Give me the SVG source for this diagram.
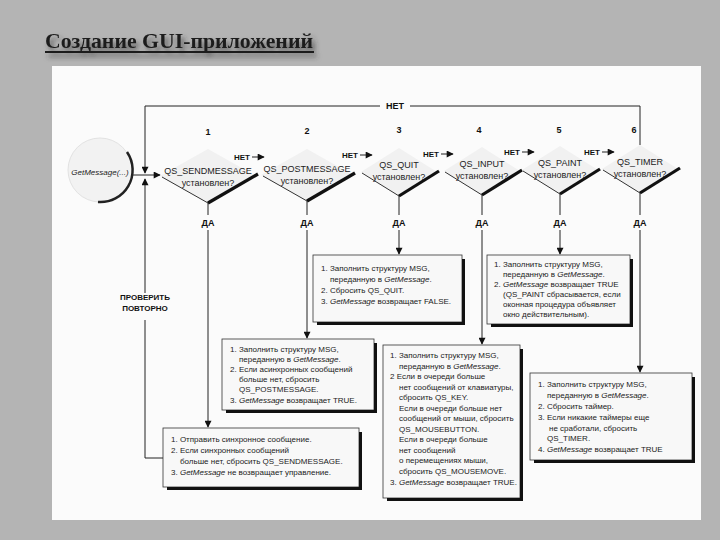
<svg xmlns="http://www.w3.org/2000/svg" width="720" height="540" viewBox="0 0 720 540">
<defs>
<style>
.t{font-family:"Liberation Sans",Arial,sans-serif;font-size:8px;fill:#222}
.i{font-style:italic}
.d{font-family:"Liberation Sans",Arial,sans-serif;font-size:9px;fill:#222;text-anchor:middle}
.n{font-family:"Liberation Sans",Arial,sans-serif;font-size:9px;font-weight:bold;fill:#111;text-anchor:middle}
.lbl{font-family:"Liberation Sans",Arial,sans-serif;font-size:8px;font-weight:bold;fill:#111}
.ln{fill:none;stroke:#222;stroke-width:1}
.box{fill:#f8f8f8;stroke:#333;stroke-width:0.8}
.shd{fill:none;stroke:#111;stroke-width:3}
.dfill{fill:#f1f1f1;stroke:none}
.dl{fill:none;stroke:#333;stroke-width:1}
.dr{fill:none;stroke:#111;stroke-width:3.2}
</style>
<marker id="ah" viewBox="0 0 10 10" refX="9" refY="5" markerWidth="8" markerHeight="7" markerUnits="userSpaceOnUse" orient="auto">
<path d="M0,0 L10,5 L0,10 z" fill="#111"/>
</marker>
<filter id="sh" x="-10%" y="-30%" width="130%" height="190%">
<feDropShadow dx="3" dy="4" stdDeviation="2.5" flood-color="#333" flood-opacity="0.7"/>
</filter>
</defs>
<rect x="0" y="0" width="720" height="540" fill="#b4b4b4"/>
<g id="title" filter="url(#sh)">
<text x="45" y="48" font-family="'Liberation Serif','Times New Roman',serif" font-size="21" font-weight="bold" fill="#1c1c1c" textLength="268" lengthAdjust="spacingAndGlyphs">Создание GUI-приложений</text>
<rect x="45" y="51" width="269" height="2" fill="#1c1c1c"/>
</g>
<rect x="52" y="66" width="649" height="454" fill="#fbfbfb"/>

<g id="connectors">
<path class="ln" d="M640,145 V106 H410"/>
<path class="ln" d="M380,106 H145 V173" marker-end="url(#ah)"/>
<path class="ln" d="M163,458 H145 V320"/>
<path class="ln" d="M145,293 V179" marker-end="url(#ah)"/>
<path class="ln" d="M132,175 H160" marker-end="url(#ah)"/>
<path class="ln" d="M208,203 V215"/><path class="ln" d="M208,230 V427" marker-end="url(#ah)"/>
<path class="ln" d="M307,201 V215"/><path class="ln" d="M307,230 V338" marker-end="url(#ah)"/>
<path class="ln" d="M399,196 V215"/><path class="ln" d="M399,230 V254" marker-end="url(#ah)"/>
<path class="ln" d="M482,195 V215"/><path class="ln" d="M482,230 V344" marker-end="url(#ah)"/>
<path class="ln" d="M560,194 V215"/><path class="ln" d="M560,230 V254" marker-end="url(#ah)"/>
<path class="ln" d="M640,193 V215"/><path class="ln" d="M640,230 V372" marker-end="url(#ah)"/>
<path class="ln" d="M252,157 H264" marker-end="url(#ah)"/>
<path class="ln" d="M360,155 H372" marker-end="url(#ah)"/>
<path class="ln" d="M441,154 H453" marker-end="url(#ah)"/>
<path class="ln" d="M522,152 H534" marker-end="url(#ah)"/>
<path class="ln" d="M602,152 H614" marker-end="url(#ah)"/>
<text class="n" x="395" y="109">НЕТ</text>
<text class="lbl" x="234" y="160">НЕТ</text>
<text class="lbl" x="342" y="158">НЕТ</text>
<text class="lbl" x="423" y="157">НЕТ</text>
<text class="lbl" x="504" y="155">НЕТ</text>
<text class="lbl" x="584" y="155">НЕТ</text>
<text class="n" x="208" y="226">ДА</text>
<text class="n" x="307" y="226">ДА</text>
<text class="n" x="399" y="226">ДА</text>
<text class="n" x="482" y="226">ДА</text>
<text class="n" x="560" y="226">ДА</text>
<text class="n" x="640" y="226">ДА</text>
<text class="lbl" x="145" y="300" text-anchor="middle" font-size="6.5" fill="#333">ПРОВЕРИТЬ</text>
<text class="lbl" x="145" y="311" text-anchor="middle" font-size="6.5" fill="#333">ПОВТОРНО</text>
</g>

<g id="start">
<circle cx="100" cy="170" r="32" fill="#f2f2f2" stroke="#e2e2e2" stroke-width="1"/>
<path d="M127,152 A32,32 0 0 1 98,202" fill="none" stroke="#222" stroke-width="2.5"/>
<text class="t i" x="100" y="175" text-anchor="middle">GetMessage(...)</text>
</g>

<g id="q1">
<polygon class="dfill" points="208,149 256,176 208,203 160,176"/>
<path class="dl" d="M162,177 L208,203"/><path class="dr" d="M208,203 L258,174"/>
<text class="n" x="208" y="135">1</text>
<text class="d" x="208" y="174">QS_SENDMESSAGE</text>
<text class="d" x="208" y="186">установлен?</text>
</g>
<g id="q2">
<polygon class="dfill" points="307,149 353,175 307,201 261,175"/>
<path class="dl" d="M263,176 L307,201"/><path class="dr" d="M307,201 L355,173"/>
<text class="n" x="307" y="134">2</text>
<text class="d" x="307" y="172">QS_POSTMESSAGE</text>
<text class="d" x="307" y="184">установлен?</text>
</g>
<g id="q3">
<polygon class="dfill" points="399,148 437,172 399,196 361,172"/>
<path class="dl" d="M362,173 L399,196"/><path class="dr" d="M399,196 L439,171"/>
<text class="n" x="399" y="133">3</text>
<text class="d" x="399" y="168">QS_QUIT</text>
<text class="d" x="399" y="180">установлен?</text>
</g>
<g id="q4">
<polygon class="dfill" points="482,147 520,171 482,195 444,171"/>
<path class="dl" d="M445,172 L482,195"/><path class="dr" d="M482,195 L522,170"/>
<text class="n" x="479" y="133">4</text>
<text class="d" x="482" y="167">QS_INPUT</text>
<text class="d" x="482" y="179">установлен?</text>
</g>
<g id="q5">
<polygon class="dfill" points="560,146 598,170 560,194 522,170"/>
<path class="dl" d="M523,171 L560,194"/><path class="dr" d="M560,194 L600,169"/>
<text class="n" x="559" y="133">5</text>
<text class="d" x="560" y="166">QS_PAINT</text>
<text class="d" x="560" y="178">установлен?</text>
</g>
<g id="q6">
<polygon class="dfill" points="640,145 678,169 640,193 602,169"/>
<path class="dl" d="M603,170 L640,193"/><path class="dr" d="M640,193 L680,168"/>
<text class="n" x="634" y="133">6</text>
<text class="d" x="640" y="165">QS_TIMER</text>
<text class="d" x="640" y="177">установлен?</text>
</g>

<g id="box1">
<rect class="box" x="163" y="428" width="196" height="59"/>
<path class="shd" d="M360.5,432 V488.5 H167"/>
<text class="t" x="171" y="442">1. Отправить синхронное сообщение.</text>
<text class="t" x="171" y="453">2. Если синхронных сообщений</text>
<text class="t" x="180" y="464">больше нет, сбросить QS_SENDMESSAGE.</text>
<text class="t" x="171" y="475">3. <tspan class="i">GetMessage</tspan> не возвращает управление.</text>
</g>
<g id="box2">
<rect class="box" x="222" y="339" width="152" height="71"/>
<path class="shd" d="M375.5,343 V411.5 H226"/>
<text class="t" x="230" y="352">1. Заполнить структуру MSG,</text>
<text class="t" x="239" y="362">переданную в <tspan class="i">GetMessage</tspan>.</text>
<text class="t" x="230" y="372">2. Если асинхронных сообщений</text>
<text class="t" x="239" y="382">больше нет, сбросить</text>
<text class="t" x="239" y="392">QS_POSTMESSAGE.</text>
<text class="t" x="230" y="403">3. <tspan class="i">GetMessage</tspan> возвращает TRUE.</text>
</g>
<g id="box3">
<rect class="box" x="313" y="255" width="149" height="67"/>
<path class="shd" d="M463.5,259 V323.5 H317"/>
<text class="t" x="321" y="271">1. Заполнить структуру MSG,</text>
<text class="t" x="330" y="282">переданную в <tspan class="i">GetMessage</tspan>.</text>
<text class="t" x="321" y="293">2. Сбросить QS_QUIT.</text>
<text class="t" x="321" y="304">3. <tspan class="i">GetMessage</tspan> возвращает FALSE.</text>
</g>
<g id="box4">
<rect class="box" x="383" y="345" width="137" height="153"/>
<path class="shd" d="M521.5,349 V499.5 H387"/>
<text class="t" x="390" y="358">1. Заполнить структуру MSG,</text>
<text class="t" x="399" y="368.5">переданную в <tspan class="i">GetMessage</tspan>.</text>
<text class="t" x="390" y="379">2  Если в очереди больше</text>
<text class="t" x="399" y="389.5">нет сообщений от клавиатуры,</text>
<text class="t" x="399" y="400">сбросить QS_KEY.</text>
<text class="t" x="399" y="410.5">Если в очереди больше нет</text>
<text class="t" x="399" y="421">сообщений от мыши, сбросить</text>
<text class="t" x="399" y="431.5">QS_MOUSEBUTTON.</text>
<text class="t" x="399" y="442">Если в очереди больше</text>
<text class="t" x="399" y="452.5">нет сообщений</text>
<text class="t" x="399" y="463">о перемещениях мыши,</text>
<text class="t" x="399" y="473.5">сбросить QS_MOUSEMOVE.</text>
<text class="t" x="390" y="485">3. <tspan class="i">GetMessage</tspan> возвращает TRUE.</text>
</g>
<g id="box5">
<rect class="box" x="487" y="255" width="143" height="69"/>
<path class="shd" d="M631.5,259 V325.5 H491"/>
<text class="t" x="494" y="267">1. Заполнить структуру MSG,</text>
<text class="t" x="503" y="277">переданную в <tspan class="i">GetMessage</tspan>.</text>
<text class="t" x="494" y="287">2. <tspan class="i">GetMessage</tspan> возвращает TRUE</text>
<text class="t" x="503" y="297">(QS_PAINT сбрасывается, если</text>
<text class="t" x="503" y="307">оконная процедура объявляет</text>
<text class="t" x="503" y="317">окно действительным).</text>
</g>
<g id="box6">
<rect class="box" x="530" y="373" width="162" height="87"/>
<path class="shd" d="M693.5,377 V461.5 H534"/>
<text class="t" x="538" y="387">1. Заполнить структуру MSG,</text>
<text class="t" x="547" y="398">переданную в <tspan class="i">GetMessage</tspan>.</text>
<text class="t" x="538" y="409">2. Сбросить таймер.</text>
<text class="t" x="538" y="420">3. Если никакие таймеры еще</text>
<text class="t" x="549" y="431">не сработали, сбросить</text>
<text class="t" x="547" y="441">QS_TIMER.</text>
<text class="t" x="538" y="452">4. <tspan class="i">GetMessage</tspan> возвращает TRUE</text>
</g>
</svg>
